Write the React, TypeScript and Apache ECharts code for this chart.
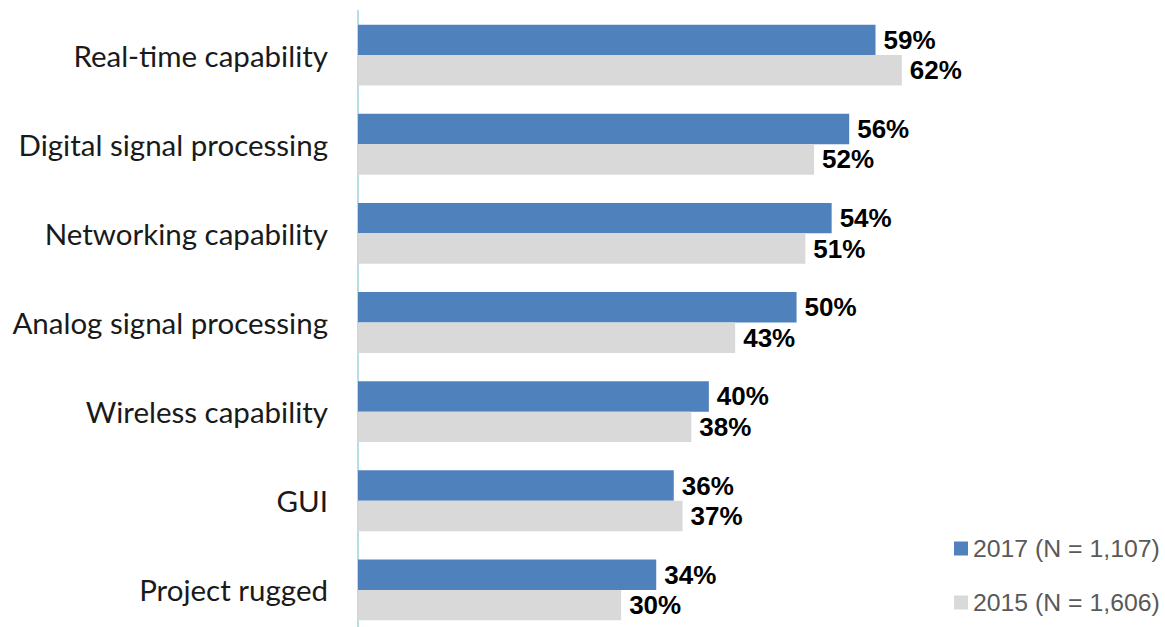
import React, { useEffect, useRef } from "react";
import * as echarts from "echarts";

const categories = [
  "Real-time capability",
  "Digital signal processing",
  "Networking capability",
  "Analog signal processing",
  "Wireless capability",
  "GUI",
  "Project rugged",
];
const series2017 = [59, 56, 54, 50, 40, 36, 34];
const series2015 = [62, 52, 51, 43, 38, 37, 30];
const seriesNames = ["2017 (N = 1,107)", "2015 (N = 1,606)"];

export default function App() {
  const ref = useRef<HTMLDivElement>(null);
  useEffect(() => {
    if (!ref.current) return;
    const chart = echarts.init(ref.current, null, { renderer: "svg" });
    const label = {
      show: true,
      position: "right" as const,
      distance: 8,
      formatter: "{c}%",
      color: "#000",
      fontFamily: "Liberation Sans, Arial, sans-serif",
      fontWeight: "bold" as const,
      fontSize: 26,
    };
    chart.setOption({
      animation: false,
      backgroundColor: "#fff",
      grid: {
        left: 358,
        top: 10.5,
        width: 614,
        height: 624,
        containLabel: false,
        outerBoundsMode: "none",
      },
      xAxis: { type: "value", min: 0, max: 70, show: false },
      yAxis: {
        type: "category",
        data: categories,
        inverse: true,
        axisLine: { show: true, lineStyle: { color: "#9fd3df", width: 1.5 } },
        axisTick: { show: false },
        axisLabel: {
          margin: 30,
          color: "#1a1a1a",
          fontFamily: "Lato, sans-serif",
          fontSize: 29.5,
        },
      },
      legend: {
        orient: "vertical",
        left: 954,
        top: 536,
        itemWidth: 14,
        itemHeight: 14,
        itemGap: 29,
        icon: "rect",
        textStyle: {
          color: "#595959",
          fontFamily: "Liberation Sans, Arial, sans-serif",
          fontSize: 24.8,
        },
        padding: 0,
        data: seriesNames,
      },
      series: [
        {
          name: seriesNames[0],
          type: "bar",
          data: series2017,
          barGap: "0%",
          barCategoryGap: "31.7%",
          itemStyle: { color: "#4f81bd" },
          label,
        },
        {
          name: seriesNames[1],
          type: "bar",
          data: series2015,
          barGap: "0%",
          barCategoryGap: "31.7%",
          itemStyle: { color: "#d9d9d9" },
          label,
        },
      ],
    });
    return () => chart.dispose();
  }, []);
  return (
    <div
      style={{
        position: "absolute",
        left: 0,
        top: 0,
        width: 1165,
        height: 627,
        overflow: "hidden",
        background: "#fff",
      }}
    >
      <div ref={ref} style={{ width: 1165, height: 645 }} />
    </div>
  );
}
